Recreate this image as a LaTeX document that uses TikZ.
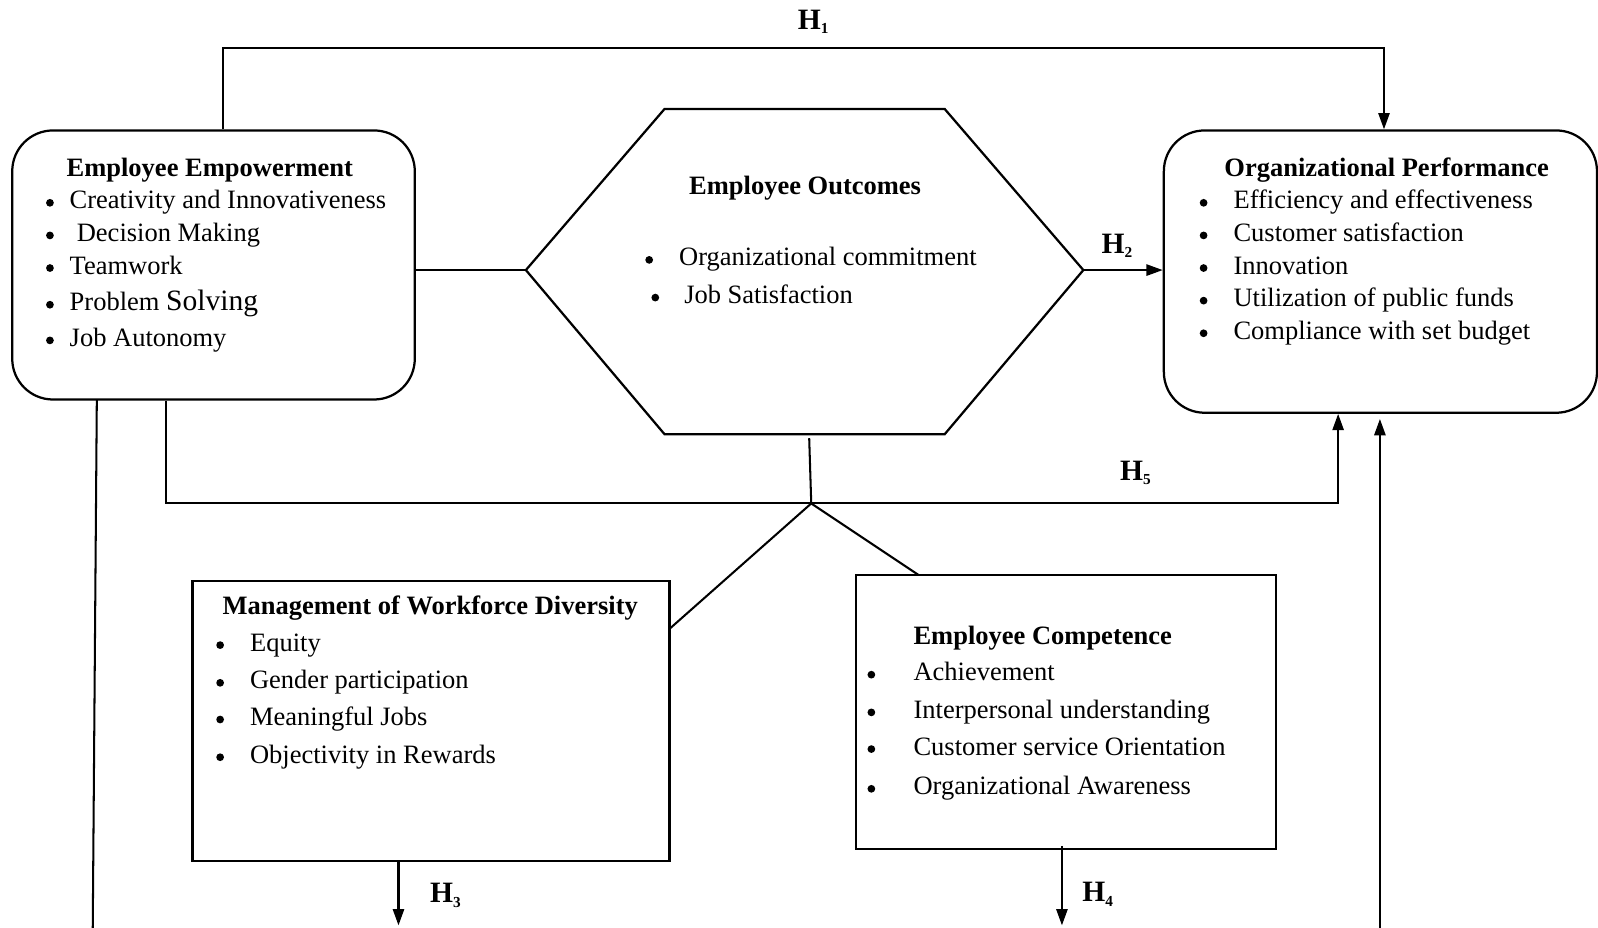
\documentclass[tikz,border=0pt]{standalone}
\usepackage{fontspec}
\setmainfont{Liberation Serif}
\usetikzlibrary{arrows.meta,calc}
\newcommand{\hsub}[1]{\raisebox{-2pt}{\fontsize{7.5}{7.5}\selectfont #1}}
\begin{document}
\begin{tikzpicture}[x=0.5pt,y=-0.5pt]
\tikzset{
 ln/.style={line width=1pt},
 arr/.style={line width=1pt,-{Triangle[length=8pt,width=5.5pt]}},
 rbox/.style={draw,line width=1.1pt,rounded corners=20pt,inner sep=0},
 sbox/.style={draw,line width=1.2pt,inner sep=0},
 txt/.style={anchor=base west,inner sep=0,font=\fontsize{13}{15}\selectfont},
 ttl/.style={anchor=base west,inner sep=0,font=\fontsize{13}{15}\selectfont\bfseries},
 bul/.style={circle,fill,inner sep=0,minimum size=3.8pt},
 hl/.style={anchor=base,inner sep=0,font=\fontsize{14.5}{16}\selectfont\bfseries},
}
\useasboundingbox (0,0) rectangle (1568,910);

% ---------- boxes ----------
\node[rbox,minimum width=197.5pt,minimum height=132pt] (ee) at (209.5,260) {};
\node[rbox,minimum width=212.5pt,minimum height=138.5pt] (op) at (1354.5,266.5) {};
\node[sbox,minimum width=234pt,minimum height=137.5pt] (mwd) at (423,707.5) {};
\node[sbox,minimum width=206pt,minimum height=134.5pt] (ec) at (1046,698.5) {};

% hexagon
\coordinate (hxL) at (516,265);
\coordinate (hxTL) at (652,107);
\coordinate (hxTR) at (927,107);
\coordinate (hxR) at (1063,265);
\coordinate (hxBR) at (927,426);
\coordinate (hxBL) at (652,426);
\draw[line width=1.1pt] (hxL) -- (hxTL) -- (hxTR) -- (hxR) -- (hxBR) -- (hxBL) -- cycle;

% ---------- texts: Employee Empowerment ----------
\node[ttl] (eet) at (65,173) {Employee Empowerment};
\node[bul] (eeb1) at (49,199) {};
\node[bul] (eeb2) at (49,231) {};
\node[bul] (eeb3) at (49,263) {};
\node[bul] (eeb4) at (49,299) {};
\node[bul] (eeb5) at (49,334) {};
\node[txt] (ee1) at (68,205) {Creativity and Innovativeness};
\node[txt] (ee2) at (75,237) {Decision Making};
\node[txt] (ee3) at (68,269) {Teamwork};
\node[txt] (ee4) at (68,305) {Problem {\fontsize{14.5}{15}\selectfont Solving}};
\node[txt] (ee5) at (68,340) {Job Autonomy};

% ---------- Employee Outcomes ----------
\node[anchor=base,inner sep=0,font=\fontsize{13}{15}\selectfont\bfseries] (eot) at (790,191) {Employee Outcomes};
\node[bul] (eob1) at (637,255) {};
\node[bul] (eob2) at (643,292) {};
\node[txt] (eo1) at (666,261) {Organizational commitment};
\node[txt] (eo2) at (671,298) {Job Satisfaction};

% ---------- Organizational Performance ----------
\node[ttl] (opt) at (1201,173) {Organizational Performance};
\node[bul] (opb1) at (1181,199) {};
\node[bul] (opb2) at (1181,231) {};
\node[bul] (opb3) at (1181,263) {};
\node[bul] (opb4) at (1181,295) {};
\node[bul] (opb5) at (1181,327) {};
\node[txt] (op1) at (1210,205) {Efficiency and effectiveness};
\node[txt] (op2) at (1210,237) {Customer satisfaction};
\node[txt] (op3) at (1210,269) {Innovation};
\node[txt] (op4) at (1210,301) {Utilization of public funds};
\node[txt] (op5) at (1210,333) {Compliance with set budget};

% ---------- Management of Workforce Diversity ----------
\node[ttl] (mwdt) at (218,603) {Management of Workforce Diversity};
\node[bul] (mwb1) at (216,633) {};
\node[bul] (mwb2) at (216,670) {};
\node[bul] (mwb3) at (216,706) {};
\node[bul] (mwb4) at (216,743) {};
\node[txt] (mw1) at (245,639) {Equity};
\node[txt] (mw2) at (245,676) {Gender participation};
\node[txt] (mw3) at (245,712) {Meaningful Jobs};
\node[txt] (mw4) at (245,749) {Objectivity in Rewards};

% ---------- Employee Competence ----------
\node[ttl] (ect) at (896,632) {Employee Competence};
\node[bul] (ecb1) at (855,662) {};
\node[bul] (ecb2) at (855,699) {};
\node[bul] (ecb3) at (855,735) {};
\node[bul] (ecb4) at (855,774) {};
\node[txt] (ec1) at (896,668) {Achievement};
\node[txt] (ec2) at (896,705) {Interpersonal understanding};
\node[txt] (ec3) at (896,741) {Customer service Orientation};
\node[txt] (ec4) at (896,780) {Organizational Awareness};

% ---------- connectors ----------
% H1
\coordinate (h1a) at (219,47);
\coordinate (h1b) at (1358,47);
\draw[arr] (ee.north -| h1a) -- (h1a) -- (h1b) -- (op.north -| h1b);
% EE -> hexagon
\draw[ln] (ee.east |- hxL) -- (hxL);
% H2
\draw[arr] (hxR) -- (hxR -| op.west);
% H5
\coordinate (j5) at (163,494);
\coordinate (jn) at (796,494);
\coordinate (h5t) at (1313,494);
\coordinate (hxS) at (794,430);
\draw[arr] (ee.south -| j5) -- (j5) -- (h5t) -- (op.south -| h5t);
\draw[ln] (hxS) -- (jn);
% junction to lower boxes
\coordinate (mwdc) at (657,617);
\coordinate (ecc) at (901,564);
\draw[ln] (jn) -- (mwdc);
\draw[ln] (jn) -- (ecc);
% long left line
\coordinate (llt) at (95,392);
\coordinate (llb) at (91,912);
\draw[ln] (llt) -- (llb);
% long right arrow
\coordinate (rlb) at (1354,912);
\draw[arr,shorten >=2.5pt] (rlb) -- (op.south -| rlb);
% H3, H4
\coordinate (h3s) at (391,845);
\coordinate (h3e) at (391,908);
\draw[arr] (h3s) -- (h3e);
\coordinate (h4s) at (1042,830);
\coordinate (h4e) at (1042,908);
\draw[arr] (h4s) -- (h4e);

% ---------- H labels ----------
\node[hl] (lh1) at (798,29) {H\hsub{1}};
\node[hl] (lh2) at (1096,249) {H\hsub{2}};
\node[hl] (lh3) at (437,886) {H\hsub{3}};
\node[hl] (lh4) at (1077,885) {H\hsub{4}};
\node[hl] (lh5) at (1114,471) {H\hsub{5}};
\end{tikzpicture}
\end{document}
